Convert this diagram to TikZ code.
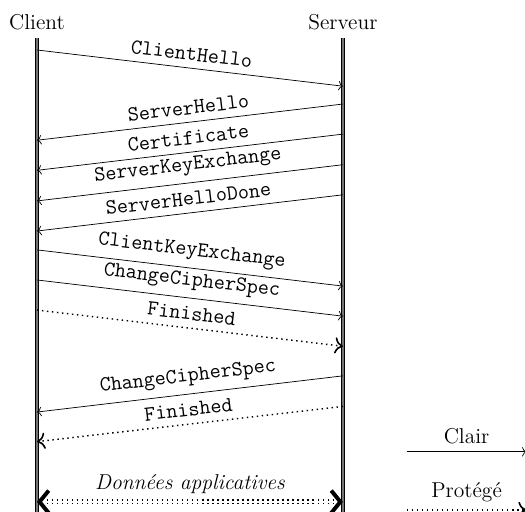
\documentclass[12pt,tikz,border=0pt]{standalone}
\usepackage{tikz}
\usetikzlibrary{arrows.meta, positioning}

\begin{document}
\begin{tikzpicture}
  [
    Life/.style={draw=black, double=black!55, line width=0.6pt, double distance=1pt},
    Plain/.style={->, draw},
    Secret/.style={-{To[length=1.6mm, width=3.2mm, line width=0.9pt]}, draw, thick, dotted},
    Data/.style={{Straight Barb[length=1.8mm, width=4.4mm, line width=2.2pt]}-{Straight Barb[length=1.8mm, width=4.4mm, line width=2.2pt]},
      draw, thick, dotted, double, double distance=1pt},
    Msg/.style={midway, above, sloped, font=\ttfamily}
  ]
  \useasboundingbox (-0.725,-10.04) rectangle (9.57,0);

  % Nodes
  \node (client) at (0, -0.43) {Client};
  \node (serveur) at (6, -0.43) {Serveur};
  \coordinate (ctop) at (0, -0.75);
  \coordinate (cbot) at (0, -10.6);
  \coordinate (stop) at (6, -0.75);
  \coordinate (sbot) at (6, -10.6);

  \coordinate (c1) at (0, -0.98);   \coordinate (s1) at (6, -1.69);
  \coordinate (s2) at (6, -2.04);   \coordinate (c2) at (0, -2.75);
  \coordinate (s3) at (6, -2.63);   \coordinate (c3) at (0, -3.34);
  \coordinate (s4) at (6, -3.23);   \coordinate (c4) at (0, -3.94);
  \coordinate (s5) at (6, -3.82);   \coordinate (c5) at (0, -4.53);
  \coordinate (c6) at (0, -4.90);   \coordinate (s6) at (6, -5.61);
  \coordinate (c7) at (0, -5.49);   \coordinate (s7) at (6, -6.20);
  \coordinate (c8) at (0, -6.08);   \coordinate (s8) at (6, -6.79);
  \coordinate (s9) at (6, -7.37);   \coordinate (c9) at (0, -8.08);
  \coordinate (s10) at (6, -7.97);  \coordinate (c10) at (0, -8.66);
  \coordinate (cdata) at (0, -9.84); \coordinate (sdata) at (6, -9.84);

  \coordinate (clairA) at (7.25, -8.86);  \coordinate (clairB) at (9.6, -8.86);
  \coordinate (protA) at (7.25, -10.0);   \coordinate (protB) at (9.6, -10.0);

  % Lines
  \path [Life] (ctop) -- (cbot);
  \path [Life] (stop) -- (sbot);

  \path [Plain] (c1) -- node[Msg] {ClientHello} (s1);
  \path [Plain] (s2) -- node[Msg] {ServerHello} (c2);
  \path [Plain] (s3) -- node[Msg] {Certificate} (c3);
  \path [Plain] (s4) -- node[Msg] {ServerKeyExchange} (c4);
  \path [Plain] (s5) -- node[Msg] {ServerHelloDone} (c5);
  \path [Plain] (c6) -- node[Msg] {ClientKeyExchange} (s6);
  \path [Plain] (c7) -- node[Msg] {ChangeCipherSpec} (s7);
  \path [Secret] (c8) -- node[Msg] {Finished} (s8);
  \path [Plain] (s9) -- node[Msg] {ChangeCipherSpec} (c9);
  \path [Secret] (s10) -- node[Msg] {Finished} (c10);
  \path [Data] (cdata) -- node[midway, above, font=\itshape] {Données applicatives} (sdata);

  % Legend
  \path [Plain] (clairA) -- node[midway, above] {Clair} (clairB);
  \path [Secret] (protA) -- node[midway, above] {Protégé} (protB);

\end{tikzpicture}
\end{document}
